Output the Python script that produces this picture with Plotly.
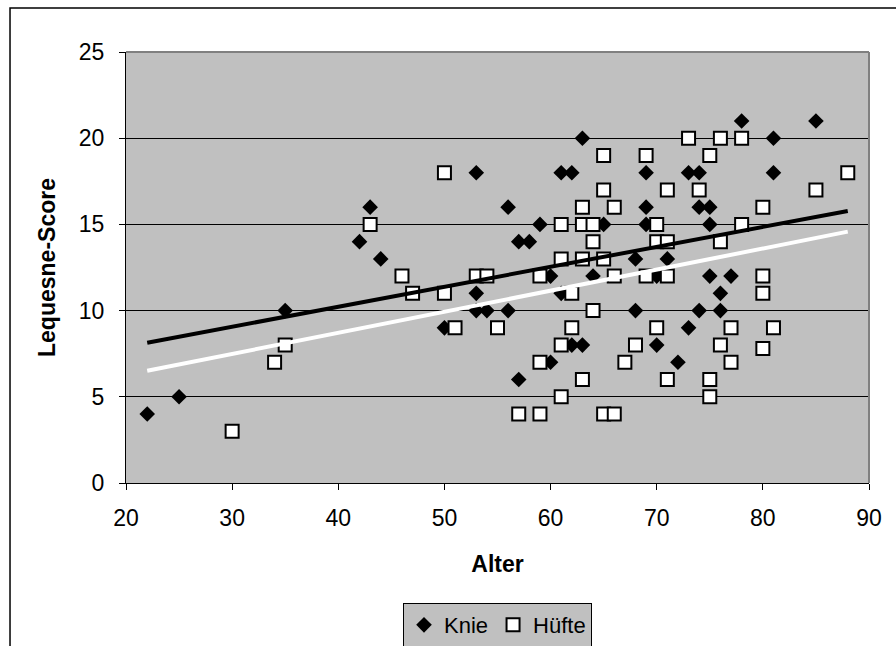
import plotly.graph_objects as go

# Alter / Lequesne-Score, Kniegelenk
knie_alter = [22, 25, 35, 42, 43, 44, 50, 53, 53, 53, 54, 56, 56, 57, 57, 58, 59, 60, 60,
              61, 61, 62, 62, 63, 63, 64, 65, 68, 68, 69, 69, 69, 70, 70, 71, 72, 73, 73,
              74, 74, 74, 75, 75, 75, 76, 76, 77, 78, 81, 81, 85]
knie_score = [4, 5, 10, 14, 16, 13, 9, 18, 11, 10, 10, 16, 10, 14, 6, 14, 15, 12, 7,
              18, 11, 18, 8, 20, 8, 12, 15, 13, 10, 18, 16, 15, 12, 8, 13, 7, 18, 9,
              18, 16, 10, 16, 15, 12, 11, 10, 12, 21, 20, 18, 21]

# Alter / Lequesne-Score, Hüftgelenk
huefte_alter = [30, 34, 35, 43, 46, 47, 50, 50, 51, 53, 54, 55, 57, 59, 59, 59, 61, 61, 61,
                61, 62, 62, 63, 63, 63, 63, 64, 64, 64, 65, 65, 65, 65, 66, 66, 66, 67, 68,
                69, 69, 70, 70, 70, 71, 71, 71, 71, 73, 74, 75, 75, 75, 76, 76, 76, 77, 77,
                78, 78, 80, 80, 80, 80, 81, 85, 88]
huefte_score = [3, 7, 8, 15, 12, 11, 18, 11, 9, 12, 12, 9, 4, 12, 7, 4, 15, 13, 8,
                5, 11, 9, 16, 15, 13, 6, 15, 14, 10, 19, 17, 13, 4, 16, 12, 4, 7, 8,
                19, 12, 15, 14, 9, 17, 14, 12, 6, 20, 17, 19, 6, 5, 20, 14, 8, 9, 7,
                20, 15, 16, 12, 11, 7.8, 9, 17, 18]

# Lineare Trendlinien (Endpunkte)
trend_alter = [22, 88]
knie_trend = [8.14, 15.78]
huefte_trend = [6.51, 14.58]

x_ticks = [20, 30, 40, 50, 60, 70, 80, 90]
y_ticks = [0, 5, 10, 15, 20, 25]

FONT = "Liberation Sans, Arial, sans-serif"
FS = 23

fig = go.Figure()

fig.add_trace(go.Scatter(
    x=knie_alter, y=knie_score, mode="markers", name="Knie",
    marker=dict(symbol="diamond", size=12, color="black",
                line=dict(color="black", width=0)),
))
fig.add_trace(go.Scatter(
    x=huefte_alter, y=huefte_score, mode="markers", name="Hüfte",
    marker=dict(symbol="square", size=13, color="white",
                line=dict(color="black", width=2)),
))
fig.add_trace(go.Scatter(
    x=trend_alter, y=knie_trend, mode="lines", showlegend=False,
    line=dict(color="black", width=4), hoverinfo="skip",
))
fig.add_trace(go.Scatter(
    x=trend_alter, y=huefte_trend, mode="lines", showlegend=False,
    line=dict(color="white", width=4), hoverinfo="skip",
))

fig.update_layout(
    width=896, height=646,
    margin=dict(l=126, r=27, t=52, b=163, autoexpand=False),
    paper_bgcolor="white",
    plot_bgcolor="#C0C0C0",
    font=dict(family=FONT, size=FS, color="black"),
    showlegend=True,
    legend=dict(
        orientation="h", x=0.5, xanchor="center",
        yref="container", y=0.0665, yanchor="top",
        bgcolor="#C0C0C0", bordercolor="black", borderwidth=1,
        font=dict(family=FONT, size=22, color="black"),
        itemwidth=30, tracegroupgap=0,
    ),
    xaxis=dict(
        range=[20, 90], tickvals=x_ticks, ticks="outside", ticklen=6,
        tickcolor="black", showline=True, linecolor="black", linewidth=1,
        showgrid=False, zeroline=False, mirror=False, automargin=False,
        tickfont=dict(family=FONT, size=FS), ticklabelstandoff=8,
        title=dict(text="<b>Alter</b>", font=dict(family=FONT, size=FS), standoff=26),
    ),
    yaxis=dict(
        range=[0, 25], tickvals=y_ticks, ticks="outside", ticklen=6,
        tickcolor="black", showline=True, linecolor="black", linewidth=1,
        showgrid=True, gridcolor="black", gridwidth=1, zeroline=False, automargin=False,
        tickfont=dict(family=FONT, size=FS), ticklabelstandoff=10,
        title=dict(text="<b>Lequesne-Score</b>", font=dict(family=FONT, size=FS), standoff=16),
    ),
    shapes=[
        # obere und rechte Kante der Zeichnungsfläche
        dict(type="line", xref="paper", yref="paper", x0=0, x1=1, y0=1, y1=1,
             line=dict(color="#808080", width=2), layer="above"),
        dict(type="line", xref="paper", yref="paper", x0=1, x1=1, y0=0, y1=1,
             line=dict(color="#808080", width=2), layer="above"),
        # äußerer Diagrammrahmen
        dict(type="rect", xref="paper", yref="paper",
             x0=-0.1561, x1=1.06, y0=-0.55, y1=1.1021,
             line=dict(color="black", width=1.5)),
    ],
)

fig.write_html("out.html")
